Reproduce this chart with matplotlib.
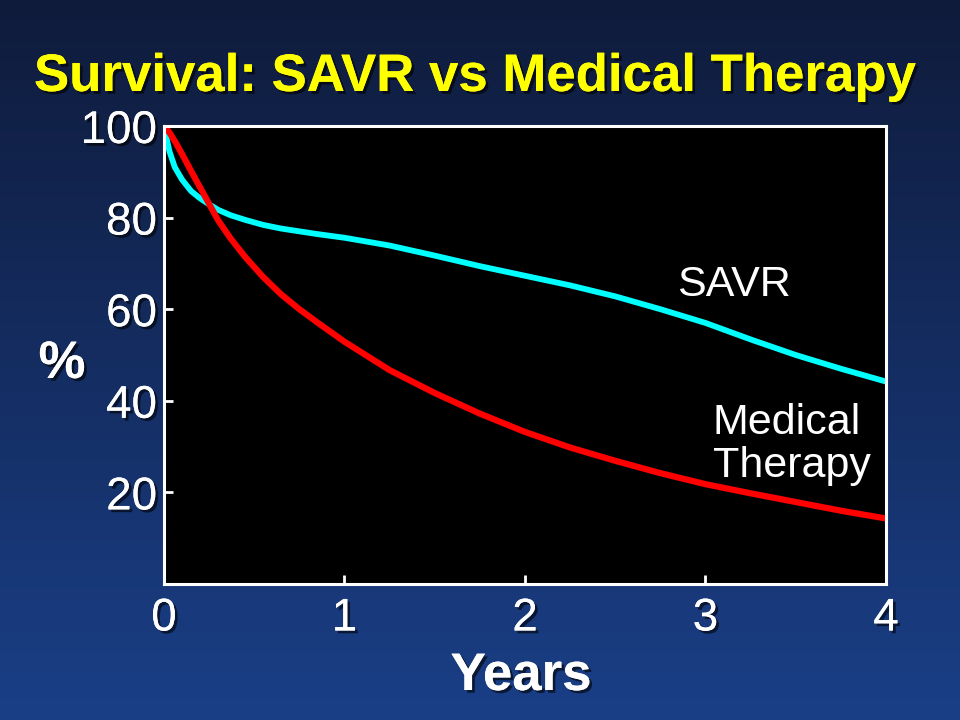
import numpy as np
import matplotlib.pyplot as plt
import matplotlib.patheffects as pe

plt.rcParams['font.family'] = ['Liberation Sans', 'DejaVu Sans']

# survival curves
years = [0, 0.03, 0.06, 0.1, 0.15, 0.2, 0.25, 0.3, 0.37, 0.45, 0.55, 0.65, 0.75,
         0.85, 1.0, 1.25, 1.5, 1.75, 2.0, 2.25, 2.5, 2.75, 3.0, 3.25, 3.5,
         3.75, 4.0]
savr = [100, 94.5, 91, 88.3, 85.8, 84.2, 82.9, 81.7, 80.5, 79.5, 78.4, 77.6, 77.0,
        76.4, 75.6, 73.9, 71.7, 69.4, 67.3, 65.2, 62.8, 60.0, 57.0, 53.4, 50.0,
        47.0, 44.2]
medical = [100, 98.6, 96.7, 93.9, 90.2, 86.6, 83.0, 79.4, 75.4, 71.4, 67.0, 63.2, 60.0,
           57.1, 52.9, 46.7, 41.7, 37.2, 33.2, 29.8, 26.9, 24.2, 21.8, 19.8, 17.9,
           16.0, 14.3]

xticks = [0, 1, 2, 3, 4]
yticks = [20, 40, 60, 80, 100]

shadow = [pe.withSimplePatchShadow(offset=(2, -2), shadow_rgbFace='black', alpha=0.6), pe.Normal()]


def main():
    fig = plt.figure(figsize=(9.6, 7.2), dpi=100)

    # gradient background
    bg = fig.add_axes([0, 0, 1, 1])
    grad = np.linspace(0, 1, 256).reshape(-1, 1)
    top = np.array([0x0f, 0x1b, 0x3b]) / 255
    bot = np.array([0x1a, 0x3f, 0x87]) / 255
    img = top + (bot - top) * grad[..., None]
    bg.imshow(img, aspect='auto', extent=[0, 1, 0, 1], origin='upper')
    bg.axis('off')

    ax = fig.add_axes([0.1708, 0.1889, 0.7521, 0.6361])
    ax.set_facecolor('black')
    ax.plot(years, savr, c='#00ffff', linewidth=4.2, solid_capstyle='butt', solid_joinstyle='round')
    ax.plot(years, medical, c='#ff0000', linewidth=4.5, solid_capstyle='butt', solid_joinstyle='round')

    ax.set_xlim([0, 4])
    ax.set_ylim([0, 100])
    ax.set_xticks(xticks)
    ax.set_yticks(yticks)
    for s in ax.spines.values():
        s.set_color('white')
        s.set_linewidth(2.2)
    ax.tick_params(direction='in', length=6.5, width=2, colors='white', labelsize=33)
    ax.tick_params(axis='x', pad=9)
    ax.tick_params(axis='y', pad=5)
    for lab in ax.get_xticklabels() + ax.get_yticklabels():
        lab.set_path_effects(shadow)

    ax.text(2.84, 62.8, "SAVR", color='white', fontsize=31, ha='left', va='baseline')
    ax.text(3.04, 39.5, "Medical\nTherapy", color='white', fontsize=31,
            ha='left', va='top', linespacing=1.1)

    fig.text(0.494, 1 - 91 / 720, "Survival: SAVR vs Medical Therapy", color='#ffff00',
             fontsize=38, fontweight='bold', ha='center', va='baseline', path_effects=shadow)
    fig.text(521 / 960, 1 - 690 / 720, "Years", color='white', fontsize=38,
             fontweight='bold', ha='center', va='baseline', path_effects=shadow)
    fig.text(62 / 960, 1 - 378 / 720, "%", color='white', fontsize=38,
             fontweight='bold', ha='center', va='baseline', path_effects=shadow)

    plt.savefig("out.png", dpi=100)
    plt.close()


if (__name__ == "__main__"):
    main()
